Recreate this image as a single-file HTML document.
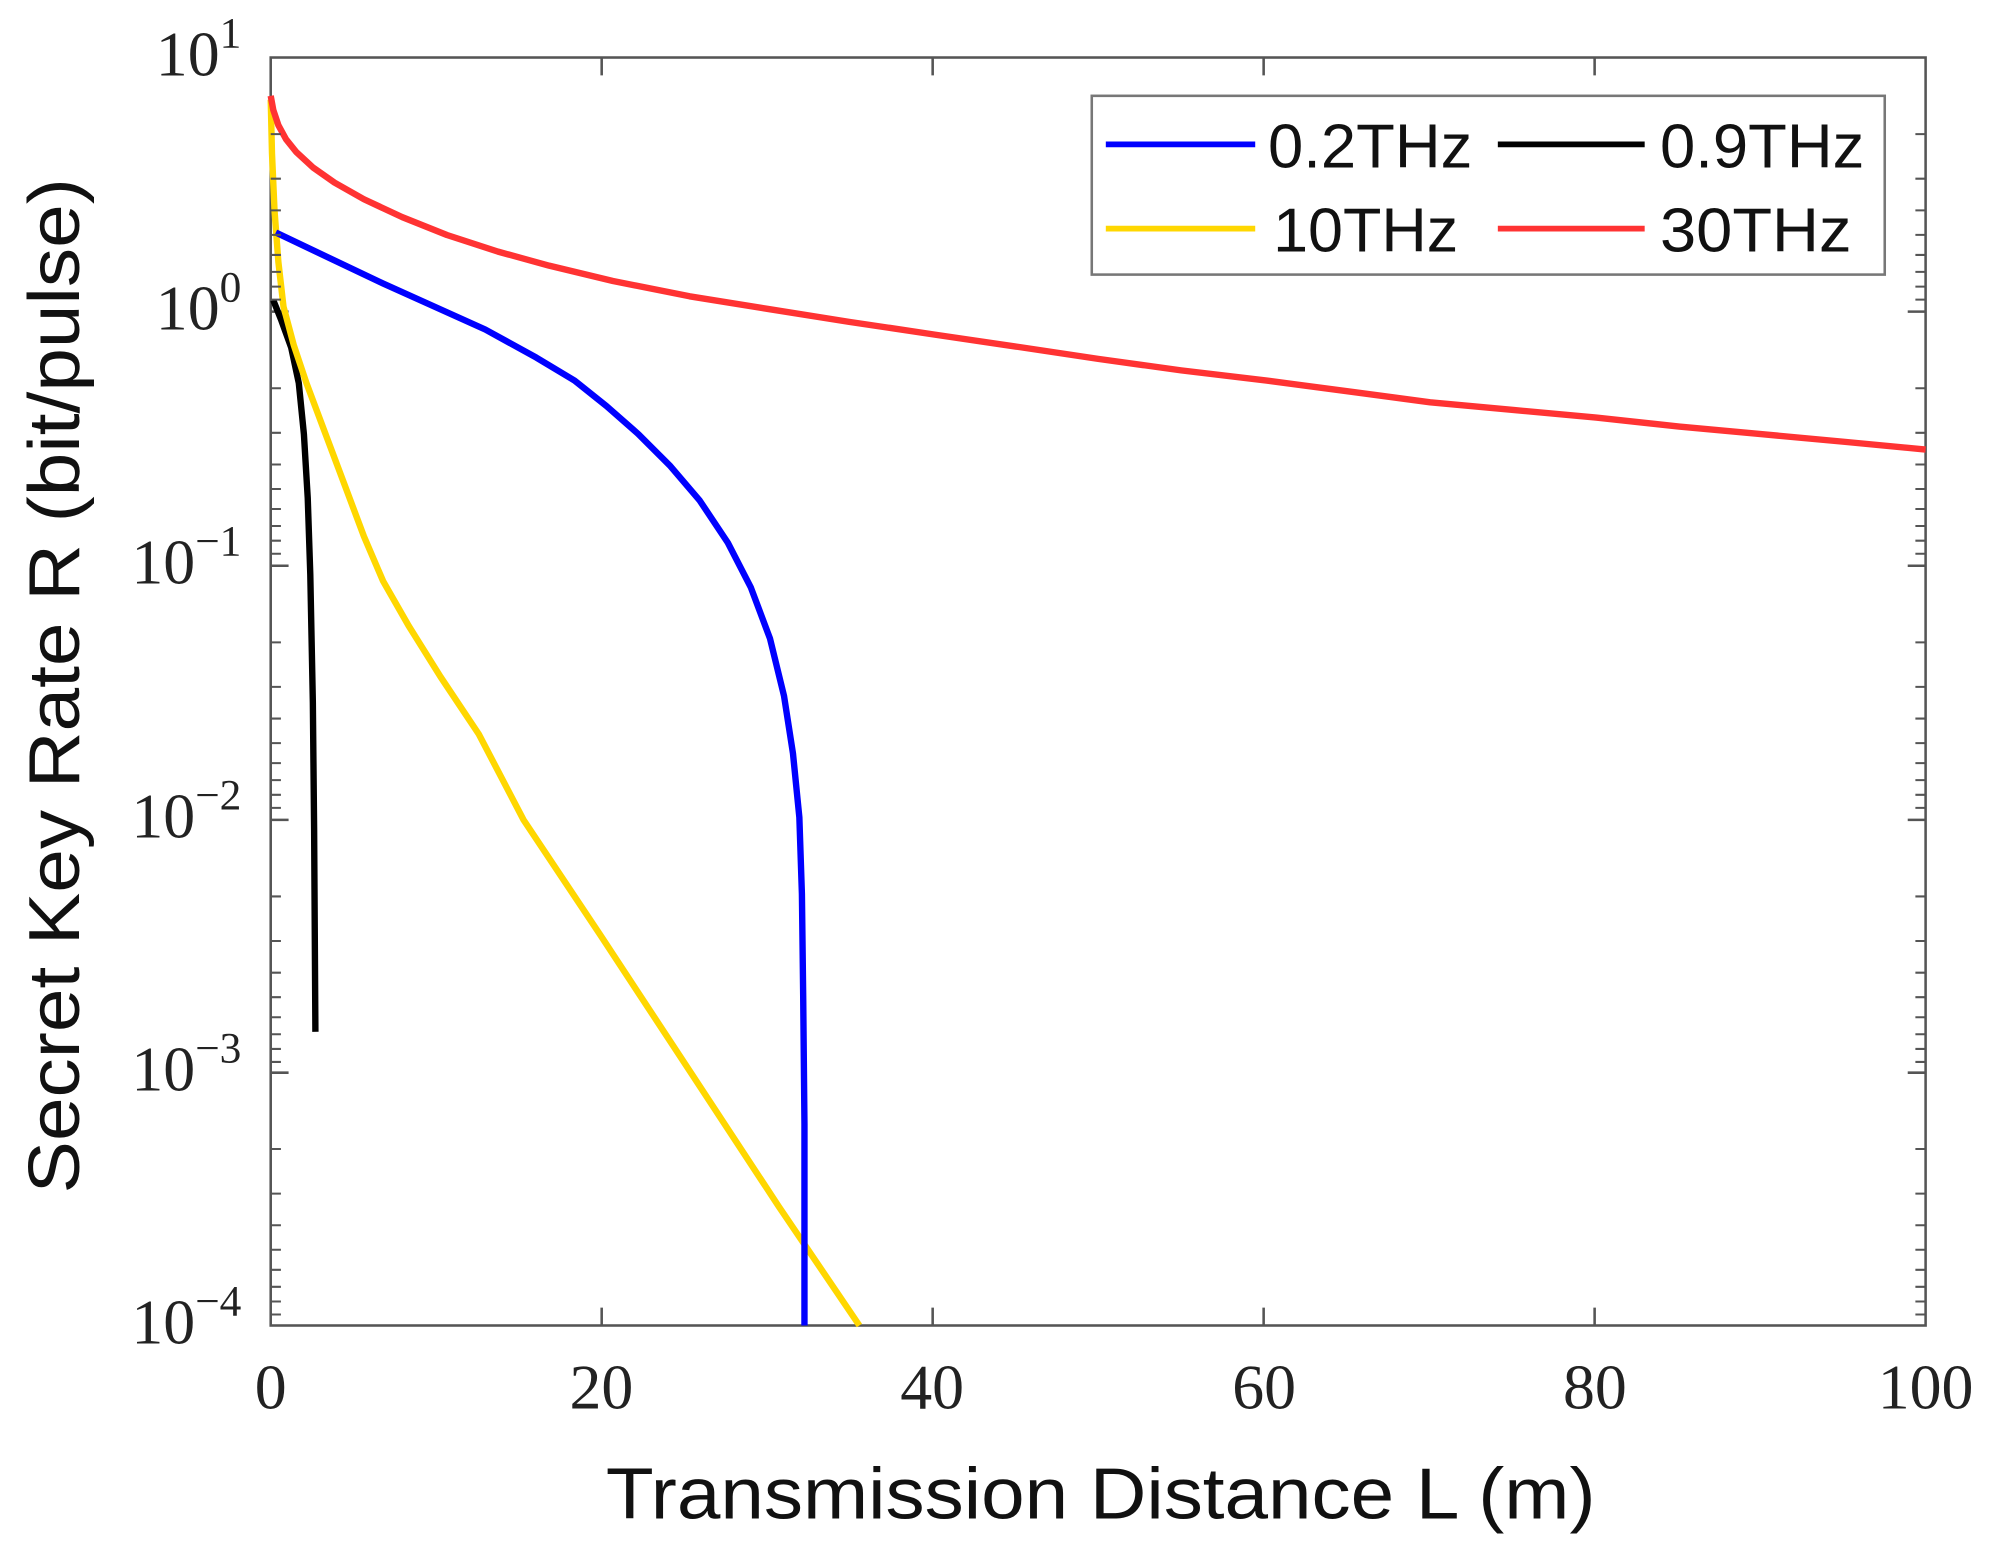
<!DOCTYPE html>
<html><head><meta charset="utf-8"><style>html,body{margin:0;padding:0;background:#fff}svg{display:block}</style></head>
<body>
<svg width="1992" height="1548" viewBox="0 0 1560 1212.2" xmlns="http://www.w3.org/2000/svg">
<rect width="1560" height="1212.2" fill="#fff"/>
<g stroke="#555" stroke-width="2" fill="none">
<rect x="212" y="45" width="1296" height="993"/>
<path d="M471.2,1038v-14M730.4,1038v-14M989.6,1038v-14M1248.8,1038v-14M471.2,45v14M730.4,45v14M989.6,45v14M1248.8,45v14
M212,244h14M212,443h14M212,642h14M212,840h14M1508,244h-14M1508,443h-14M1508,642h-14M1508,840h-14"/>
</g>
<g fill="none" stroke-linejoin="round" stroke-linecap="butt" stroke-width="5">
<polyline stroke="#000" points="214,235 220,250 228,272 234,300 238,340 241,390 243,450 245,550 246,650 247,808"/>
<polyline stroke="#ffd700" points="212,78 213,120 215,165 218,205 222,240 230,270 240,300 255,340 270,380 285,420 300,455 320,490 345,530 375,575 410,642 470,732 541,840 610,945 673,1038"/>
<polyline stroke="#0000ff" points="216,182 260,203 300,222 340,240 380,258 420,280 450,298 475,318 500,340 525,365 548,392 570,425 588,460 603,500 614,545 621,590 626,640 628,700 629,780 630,880 630,1038"/>
<polyline stroke="#ff3333" points="212,75 214,86 218,98 224,109 232,119 245,131 262,143 285,156 315,170 350,184 390,197 430,208 480,220 540,232 602,242 665,252 732,262 800,272 860,281 925,290 992,298 1060,307 1120,315 1185,321 1250,327 1315,334 1380,340 1445,346 1508,352"/>
</g>
<rect x="855" y="75" width="621" height="140" fill="#fff" stroke="#777" stroke-width="2"/>
<g stroke-width="4.5">
<line x1="866" y1="113" x2="983" y2="113" stroke="#0000ff"/>
<line x1="1173" y1="113" x2="1288" y2="113" stroke="#000"/>
<line x1="866" y1="179" x2="983" y2="179" stroke="#ffd700"/>
<line x1="1173" y1="179" x2="1288" y2="179" stroke="#ff3333"/>
</g>
<g font-family="Liberation Sans, sans-serif" font-size="49" fill="#111">
<text x="993" y="131" textLength="160" lengthAdjust="spacingAndGlyphs">0.2THz</text>
<text x="1300" y="131" textLength="160" lengthAdjust="spacingAndGlyphs">0.9THz</text>
<text x="997" y="197" textLength="145" lengthAdjust="spacingAndGlyphs">10THz</text>
<text x="1300" y="197" textLength="150" lengthAdjust="spacingAndGlyphs">30THz</text>
<text x="862" y="1189" text-anchor="middle" font-size="57" textLength="775" lengthAdjust="spacingAndGlyphs">Transmission Distance L (m)</text>
<text transform="translate(62,537) rotate(-90)" text-anchor="middle" font-size="57" textLength="795" lengthAdjust="spacingAndGlyphs">Secret Key Rate R (bit/pulse)</text>
</g>
<g font-family="Liberation Serif, serif" font-size="50" fill="#222" text-anchor="middle">
<text x="212" y="1103">0</text><text x="471" y="1103">20</text><text x="730" y="1103">40</text>
<text x="990" y="1103">60</text><text x="1249" y="1103">80</text><text x="1508" y="1103">100</text>
</g>
<g font-family="Liberation Serif, serif" font-size="50" fill="#222" text-anchor="end">
<text x="189" y="59">10<tspan font-size="34" dy="-22">1</tspan></text>
<text x="189" y="258">10<tspan font-size="34" dy="-22">0</tspan></text>
<text x="189" y="457">10<tspan font-size="34" dy="-22">−1</tspan></text>
<text x="189" y="656">10<tspan font-size="34" dy="-22">−2</tspan></text>
<text x="189" y="854">10<tspan font-size="34" dy="-22">−3</tspan></text>
<text x="189" y="1052">10<tspan font-size="34" dy="-22">−4</tspan></text>
</g>
<g stroke="#555" stroke-width="1.6">
<path d="
M212,105.0h8M212,139.9h8M212,164.7h8M212,183.9h8M212,199.6h8M212,212.9h8M212,224.4h8M212,234.6h8
M212,304.0h8M212,338.9h8M212,363.7h8M212,382.9h8M212,398.6h8M212,411.9h8M212,423.4h8M212,433.6h8
M212,503.0h8M212,537.9h8M212,562.7h8M212,581.9h8M212,597.6h8M212,610.9h8M212,622.4h8M212,632.6h8
M212,702.0h8M212,736.9h8M212,761.7h8M212,780.9h8M212,796.6h8M212,809.9h8M212,821.4h8M212,831.6h8
M212,899.8h8M212,934.7h8M212,959.5h8M212,978.7h8M212,994.4h8M212,1007.7h8M212,1019.2h8M212,1029.4h8
M1508,105.0h-8M1508,139.9h-8M1508,164.7h-8M1508,183.9h-8M1508,199.6h-8M1508,212.9h-8M1508,224.4h-8M1508,234.6h-8
M1508,304.0h-8M1508,338.9h-8M1508,363.7h-8M1508,382.9h-8M1508,398.6h-8M1508,411.9h-8M1508,423.4h-8M1508,433.6h-8
M1508,503.0h-8M1508,537.9h-8M1508,562.7h-8M1508,581.9h-8M1508,597.6h-8M1508,610.9h-8M1508,622.4h-8M1508,632.6h-8
M1508,702.0h-8M1508,736.9h-8M1508,761.7h-8M1508,780.9h-8M1508,796.6h-8M1508,809.9h-8M1508,821.4h-8M1508,831.6h-8
M1508,899.8h-8M1508,934.7h-8M1508,959.5h-8M1508,978.7h-8M1508,994.4h-8M1508,1007.7h-8M1508,1019.2h-8M1508,1029.4h-8"/>
</g>
</svg>
</body></html>
